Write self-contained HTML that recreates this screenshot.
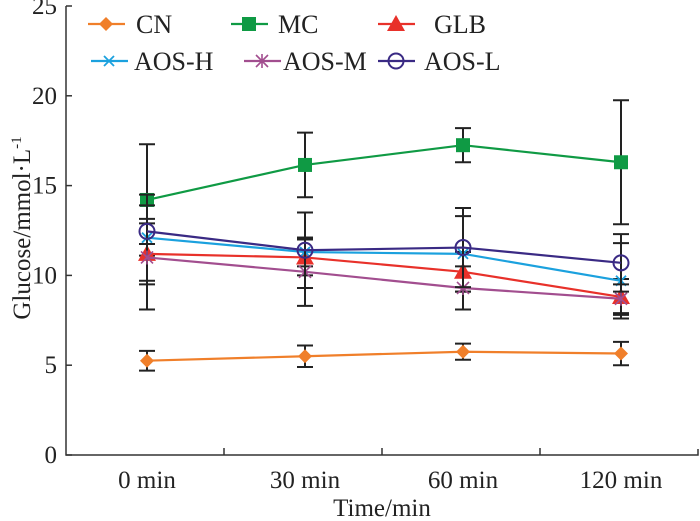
<!DOCTYPE html>
<html><head><meta charset="utf-8"><style>
html,body{margin:0;padding:0;background:#fff;}
svg{display:block;font-family:"Liberation Serif",serif;}
</style></head><body>
<svg id="chart" width="700" height="521" viewBox="0 0 700 521"></svg>
<script>
const categories = ["0 min","30 min","60 min","120 min"];
const yTicks = [0,5,10,15,20,25];
const seriesNames = ["CN","MC","GLB","AOS-H","AOS-M","AOS-L"];
const cnValues = [5.25,5.5,5.75,5.65];
const cnErrors = [0.55,0.6,0.45,0.65];
const mcValues = [14.2,16.15,17.25,16.3];
const mcErrors = [3.1,1.8,0.95,3.45];
const glbValues = [11.2,11.0,10.2,8.8];
const glbErrors = [1.7,1.0,1.1,1.0];
const aoshValues = [12.1,11.3,11.2,9.7];
const aoshErrors = [2.4,0.8,2.1,2.1];
const aosmValues = [11.0,10.2,9.3,8.7];
const aosmErrors = [2.9,1.9,1.2,0.8];
const aoslValues = [12.45,11.4,11.55,10.7];
const aoslErrors = [0.7,2.1,2.2,1.6];

const NS="http://www.w3.org/2000/svg";
const svg=document.getElementById('chart');
const X0=66,X1=698,Y0=455,Y25=6;
const band=(X1-X0)/categories.length;
function xPos(i){return X0+band*(i+0.5)+2;}
function yPos(v){return Y0-(Y0-Y25)*v/25;}
function mk(tag,attrs,parent){const e=document.createElementNS(NS,tag);for(const k in attrs)e.setAttribute(k,attrs[k]);(parent||svg).appendChild(e);return e;}

const ax=mk('path',{d:`M${X0},${Y25} L${X0},${Y0} L${X1},${Y0} L${X1},${Y0-6}`,fill:'none',stroke:'#333','stroke-width':1.5});


yTicks.forEach(v=>{
  const y=yPos(v);
  const t=mk('line',{x1:X0,x2:X0+6,y1:y,y2:y,stroke:'#333','stroke-width':1.5});
  
  
  const l=mk('text',{x:X0-9,y:y+8,'text-anchor':'end','font-size':25,fill:'#222'});
  l.textContent=v;
  
  
});
categories.forEach((c,i)=>{
  if(i>0){const t=mk('line',{x1:X0+band*i,x2:X0+band*i,y1:Y0,y2:Y0-7,stroke:'#333','stroke-width':1.5});
  
  }
  const l=mk('text',{x:xPos(i),y:Y0+33,'text-anchor':'middle','font-size':25,fill:'#222'});
  l.textContent=c;
  
  
});
const xt=mk('text',{x:382,y:516,'text-anchor':'middle','font-size':25,fill:'#222'});
xt.textContent='Time/min';


const yt=mk('text',{x:0,y:0,'text-anchor':'middle','font-size':25,fill:'#222',transform:'translate(30,228) rotate(-90)'});
yt.innerHTML='Glucose/mmol·L<tspan dy="-9" font-size="15">-1</tspan>';



function marker(type,x,y,color,g){
  if(type==='diamond')mk('path',{d:`M${x-7},${y} L${x},${y-7} L${x+7},${y} L${x},${y+7}Z`,fill:color},g);
  else if(type==='square')mk('rect',{x:x-7,y:y-7,width:14,height:14,fill:color},g);
  else if(type==='triangle')mk('path',{d:`M${x},${y-9} L${x+9},${y+7} L${x-9},${y+7}Z`,fill:color},g);
  else if(type==='x')mk('path',{d:`M${x-5},${y-5} L${x+5},${y+5} M${x-5},${y+5} L${x+5},${y-5}`,stroke:color,'stroke-width':1.8},g);
  else if(type==='star')mk('path',{d:`M${x-6},${y-6} L${x+6},${y+6} M${x-6},${y+6} L${x+6},${y-6} M${x},${y-7} L${x},${y+7}`,stroke:color,'stroke-width':1.6},g);
  else if(type==='circle')mk('circle',{cx:x,cy:y,r:7.5,fill:'none',stroke:color,'stroke-width':2},g);
}
const series=[
 {name:'CN',vals:cnValues,errs:cnErrors,color:'#f07f2a',m:'diamond'},
 {name:'MC',vals:mcValues,errs:mcErrors,color:'#0f9a44',m:'square'},
 {name:'GLB',vals:glbValues,errs:glbErrors,color:'#e8312a',m:'triangle'},
 {name:'AOS-H',vals:aoshValues,errs:aoshErrors,color:'#1ba1de',m:'x'},
 {name:'AOS-M',vals:aosmValues,errs:aosmErrors,color:'#a24e8f',m:'star'},
 {name:'AOS-L',vals:aoslValues,errs:aoslErrors,color:'#3a2a84',m:'circle'}
];
series.forEach(s=>{
  const g=mk('g',{});
  
  
  s.vals.forEach((v,i)=>{
    const x=xPos(i),yt=yPos(v+s.errs[i]),yb=yPos(v-s.errs[i]);
    const eb=mk('path',{d:`M${x},${yt} L${x},${yb} M${x-8},${yt} L${x+8},${yt} M${x-8},${yb} L${x+8},${yb}`,stroke:'#222','stroke-width':2,fill:'none'},g);
    
    
  });
  const line=mk('path',{d:s.vals.map((v,i)=>(i?'L':'M')+xPos(i)+','+yPos(v)).join(' '),fill:'none',stroke:s.color,'stroke-width':2.2},g);
  
  
  s.vals.forEach((v,i)=>marker(s.m,xPos(i),yPos(v),s.color,g));
});
const legendPos=[[88,24,136],[231,24,278],[378,24,434],[91,61,134],[244,61,283],[378,61,424]];
series.forEach((s,i)=>{
  const [lx,ly,tx]=legendPos[i];
  const g=mk('g',{});
  
  
  mk('line',{x1:lx,x2:lx+37,y1:ly,y2:ly,stroke:s.color,'stroke-width':2.2},g);
  marker(s.m,lx+18,ly,s.color,g);
  const t=mk('text',{x:tx,y:ly+9,'font-size':26,fill:'#222'},g);
  t.textContent=s.name;
});
</script>
</body></html>
